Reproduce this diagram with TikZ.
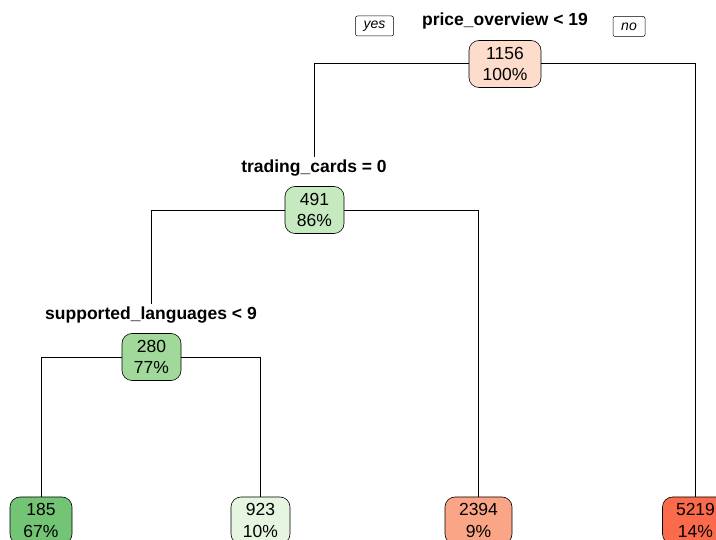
\documentclass[tikz,border=0pt]{standalone}
\usepackage{fontspec}
\setmainfont{Liberation Sans}
\begin{document}
\begin{tikzpicture}[x=1pt,y=-1pt,
  leafbox/.style={draw=black, line width=0.6pt, rounded corners=10pt, minimum height=47pt,
     inner sep=0pt, align=center, font=\fontsize{17.5}{21.5}\selectfont},
  splitlbl/.style={font=\fontsize{17.5}{20}\selectfont\bfseries, inner sep=3pt},
  tagbox/.style={draw=black, line width=0.5pt, rounded corners=2pt, font=\fontsize{14}{16}\selectfont\itshape,
     minimum height=20pt, minimum width=38pt, inner xsep=4pt, inner ysep=0pt},
  edge/.style={line width=0.6pt, black}]
\useasboundingbox (0,0) rectangle (716,540);
\clip (0,0) rectangle (716,540);
\definecolor{cRoot}{HTML}{FDDCCB}
\definecolor{cA}{HTML}{C7E9C0}
\definecolor{cB}{HTML}{A1D99B}
\definecolor{cL1}{HTML}{74C476}
\definecolor{cL2}{HTML}{E5F5E0}
\definecolor{cL3}{HTML}{FBA587}
\definecolor{cL4}{HTML}{FB6A4A}

% labels
\node[splitlbl] (lblP) at (505,21) {price\_overview < 19};
\node[splitlbl] (lblT) at (314,168) {trading\_cards = 0};
\node[splitlbl] (lblS) at (151,315) {supported\_languages < 9};
\node[tagbox] (yes) at (374.5,26) {yes};
\node[tagbox, minimum width=32pt] (no) at (629,26.5) {no};

% leaves
\node[leafbox, fill=cL1, minimum width=62pt] (l1) at (41,520.5) {185\\67\%};
\node[leafbox, fill=cL2, minimum width=59pt] (l2) at (260.5,520.5) {923\\10\%};
\node[leafbox, fill=cL3, minimum width=67pt] (l3) at (478.5,520.5) {2394\\9\%};
\node[leafbox, fill=cL4, minimum width=66pt] (l4) at (695.5,520.5) {5219\\14\%};

% inner nodes
\node[leafbox, fill=cRoot, minimum width=72pt] (root) at (505,64) {1156\\100\%};
\node[leafbox, fill=cA, minimum width=59pt] (nA) at (314.5,210) {491\\86\%};
\node[leafbox, fill=cB, minimum width=59pt] (nB) at (151.5,357) {280\\77\%};

% connectors
\draw[edge] (root.west |- 0,63) -| (lblT.north);
\draw[edge] (root.east |- 0,63) -| (l4.north);
\draw[edge] (nA.west) -| (lblS.north);
\draw[edge] (nA.east) -| (l3.north);
\draw[edge] (nB.west) -| (l1.north);
\draw[edge] (nB.east) -| (l2.north);
\end{tikzpicture}
\end{document}
